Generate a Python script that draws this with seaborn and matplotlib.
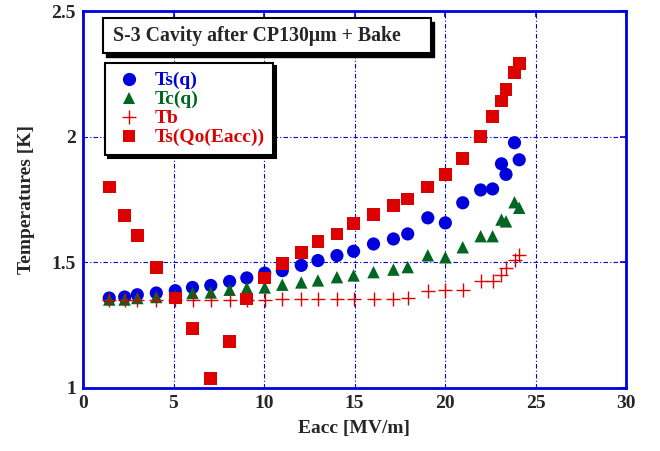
import numpy as np
import pandas as pd
import seaborn as sns
import matplotlib.pyplot as plt
from matplotlib.patches import Rectangle
from matplotlib.lines import Line2D

# data
eacc = [1.45, 2.3, 3.0, 4.05, 5.1, 6.05, 7.06, 8.1, 9.05, 10.04, 11.01, 12.06, 12.98, 14.03,
        14.95, 16.05, 17.15, 17.94, 19.05, 20.02, 20.98, 21.97, 22.63, 23.12, 23.37, 23.84, 24.1]
ts_q = [1.358, 1.362, 1.371, 1.378, 1.387, 1.400, 1.408, 1.424, 1.438, 1.457, 1.467, 1.488, 1.507, 1.527,
        1.544, 1.573, 1.593, 1.613, 1.677, 1.657, 1.737, 1.788, 1.792, 1.892, 1.850, 1.976, 1.908]
tc_q = [1.352, 1.352, 1.358, 1.362, 1.366, 1.378, 1.380, 1.391, 1.398, 1.400, 1.411, 1.420, 1.428, 1.441,
        1.448, 1.461, 1.471, 1.481, 1.528, 1.520, 1.560, 1.604, 1.604, 1.670, 1.663, 1.739, 1.717]
tb = [1.352, 1.352, 1.352, 1.352, 1.352, 1.352, 1.352, 1.352, 1.352, 1.352, 1.354, 1.354, 1.354, 1.354,
      1.354, 1.354, 1.354, 1.358, 1.387, 1.389, 1.389, 1.424, 1.424, 1.451, 1.477, 1.510, 1.530]
ts_qo = [1.80, 1.686, 1.606, 1.479, 1.358, 1.238, 1.039, 1.185, 1.354, 1.438, 1.495, 1.540, 1.584, 1.613,
         1.653, 1.690, 1.726, 1.752, 1.800, 1.850, 1.912, 2.000, 2.080, 2.142, 2.189, 2.255, 2.290]

df = pd.DataFrame({'Eacc': eacc, 'Ts(q)': ts_q, 'Tc(q)': tc_q, 'Tb': tb, 'Ts(Qo(Eacc))': ts_qo})

blue = '#0000dd'
green = '#006622'
red = '#dd0000'

sns.set_style('white')
plt.rcParams['font.family'] = ['Liberation Serif', 'DejaVu Serif']
plt.rcParams['font.weight'] = 'bold'

fig = plt.figure(figsize=(6.6, 4.51), dpi=100)
ax = fig.add_axes([83/660, 1 - 388/451, 543/660, 377/451])

ax.grid(True, color=blue, linestyle=(0, (4, 2, 1, 2)), linewidth=0.8, zorder=0)
ax.set_axisbelow(True)

sns.scatterplot(data=df, x='Eacc', y='Ts(q)', marker='o', s=90, color=blue, edgecolor='none', ax=ax, zorder=3)
sns.scatterplot(data=df, x='Eacc', y='Tc(q)', marker='^', s=80, color=green, edgecolor='none', ax=ax, zorder=4)
sns.scatterplot(data=df, x='Eacc', y='Tb', marker='+', s=90, color=red, linewidth=1.0, ax=ax, zorder=5)
sns.scatterplot(data=df, x='Eacc', y='Ts(Qo(Eacc))', marker='s', s=85, color=red, edgecolor='none', ax=ax, zorder=6)

ax.set_xlim(0, 30)
ax.set_ylim(1, 2.5)
ax.set_xticks([0, 5, 10, 15, 20, 25, 30])
ax.set_yticks([1, 1.5, 2, 2.5])
ax.set_yticklabels(['1', '1.5', '2', '2.5'])
ax.tick_params(direction='in', length=4, width=1.2, color=blue, labelsize=14,
               top=True, right=True, pad=5)
for lab in ax.get_xticklabels() + ax.get_yticklabels():
    lab.set_fontweight('bold')
for sp in ax.spines.values():
    sp.set_color(blue)
    sp.set_linewidth(2)

ax.set_xlabel('Eacc [MV/m]', fontsize=14, fontweight='bold', labelpad=6)
ax.set_ylabel('Temperatures [K]', fontsize=14, fontweight='bold', labelpad=12)

# title box with hard shadow
W, H = 660, 451
def fig_box(x0, y0, x1, y1):
    return (x0 / W, 1 - y1 / H), (x1 - x0) / W, (y1 - y0) / H

xy, w, h = fig_box(106, 22, 434, 57)
fig.patches.append(Rectangle(xy, w, h, transform=fig.transFigure, facecolor='black', edgecolor='black', zorder=10))
xy, w, h = fig_box(103, 18, 431, 53)
fig.patches.append(Rectangle(xy, w, h, transform=fig.transFigure, facecolor='white', edgecolor='black', linewidth=1.5, zorder=11))
fig.text(113 / W, 1 - 36 / H, 'S-3 Cavity after CP130\u03bcm + Bake', fontsize=14.3, fontweight='bold',
         va='center', ha='left', zorder=12)

handles = [
    Line2D([], [], marker='o', linestyle='none', color=blue, markersize=9.5, markeredgewidth=0),
    Line2D([], [], marker='^', linestyle='none', color=green, markersize=9, markeredgewidth=0),
    Line2D([], [], marker='+', linestyle='none', color=red, markersize=9.5, markeredgewidth=1.0),
    Line2D([], [], marker='s', linestyle='none', color=red, markersize=9, markeredgewidth=0),
]
labels = ['Ts(q)', 'Tc(q)', 'Tb', 'Ts(Qo(Eacc))']
leg = ax.legend(handles, labels, loc='upper left', bbox_to_anchor=(105 / W, 1 - 63 / H),
                bbox_transform=fig.transFigure, borderaxespad=0, fontsize=14,
                frameon=True, fancybox=False, edgecolor='black', framealpha=1,
                shadow={'color': 'black', 'alpha': 1}, handlelength=1.6, handletextpad=0.5,
                labelspacing=0.07, borderpad=0.45, labelcolor=[blue, green, red, red])
leg.get_frame().set_linewidth(1.5)
leg.set_zorder(20)
for t in leg.get_texts():
    t.set_fontweight('bold')

fig.savefig('out.png', dpi=100)
